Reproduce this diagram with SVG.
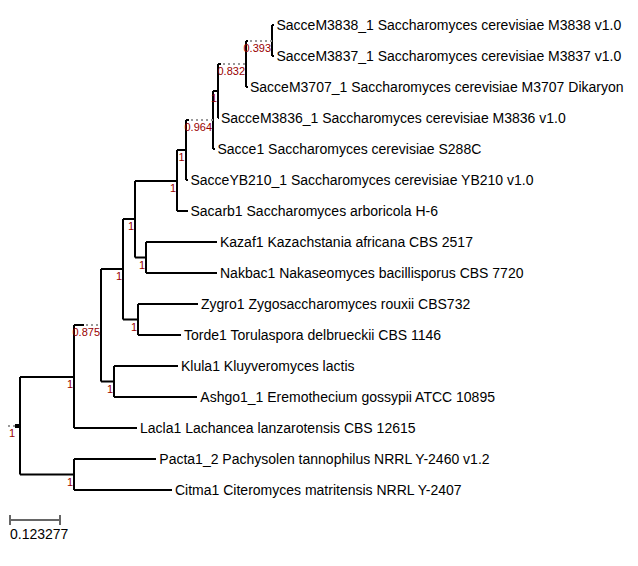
<svg xmlns="http://www.w3.org/2000/svg" width="638" height="566" viewBox="0 0 638 566">
<style>
  .br { fill: none; stroke: #000; stroke-width: 2; }
  .dot { fill: none; stroke: #999; stroke-width: 2; stroke-dasharray: 2 3; }
  .leaf { font-family: "Liberation Sans", Arial, sans-serif; font-size: 14px; fill: #000; }
  .sup { font-family: "Liberation Sans", Arial, sans-serif; font-size: 11px; fill: #990000; text-anchor: end; }
  .scale { fill: none; stroke: #666; stroke-width: 2; }
</style>
<rect width="638" height="566" fill="#fff"/>
<g id="connectors">
  <!-- verticals -->
  <path class="br" d="M272,25V56 M246,41V87 M218,64V118 M213,91V149 M186,120V180 M177,150V211 M135,181V257.5 M146,242V273 M138,304V335 M123,219V319.5 M114,366V397 M101,269V381.5 M74,325V428 M74,459V490 M20,377V474.5"/>
  <!-- internal horizontals -->
  <path class="br" d="M246,41H248 M218,64H221 M213,91H218 M186,120H189 M177,150H186 M135,181H177 M123,219H135 M135,257.5H146 M123,319.5H138 M101,269H123 M101,381.5H114 M74,325H84 M20,377H74 M20,474.5H74"/>
  <path class="dot" d="M250,41H272 M223,64H246 M191,120H213 M86,325H101 M8,426H15"/>
  <rect x="15" y="424" width="5" height="4" fill="#000"/>
  <!-- leaf branches -->
  <path class="br" d="M272,25H274 M272,56H274 M246,87H248 M218,118H219 M213,149H215 M186,180H188 M177,211H188 M146,242H217 M146,273H217 M138,304H198 M138,335H181 M114,366H178 M114,397H197 M74,428H137 M74,459H156 M74,490H172"/>
</g>
<g id="leaf-SacceM3838_1"><text class="leaf" x="276.5" y="30">SacceM3838_1 Saccharomyces cerevisiae M3838 v1.0</text></g>
<g id="leaf-SacceM3837_1"><text class="leaf" x="276.5" y="61">SacceM3837_1 Saccharomyces cerevisiae M3837 v1.0</text></g>
<g id="leaf-SacceM3707_1"><text class="leaf" x="250" y="92">SacceM3707_1 Saccharomyces cerevisiae M3707 Dikaryon</text></g>
<g id="leaf-SacceM3836_1"><text class="leaf" x="221" y="123">SacceM3836_1 Saccharomyces cerevisiae M3836 v1.0</text></g>
<g id="leaf-Sacce1"><text class="leaf" x="217.5" y="154">Sacce1 Saccharomyces cerevisiae S288C</text></g>
<g id="leaf-SacceYB210_1"><text class="leaf" x="190.5" y="185">SacceYB210_1 Saccharomyces cerevisiae YB210 v1.0</text></g>
<g id="leaf-Sacarb1"><text class="leaf" x="190.5" y="216">Sacarb1 Saccharomyces arboricola H-6</text></g>
<g id="leaf-Kazaf1"><text class="leaf" x="220" y="247">Kazaf1 Kazachstania africana CBS 2517</text></g>
<g id="leaf-Nakbac1"><text class="leaf" x="220" y="278">Nakbac1 Nakaseomyces bacillisporus CBS 7720</text></g>
<g id="leaf-Zygro1"><text class="leaf" x="201" y="309">Zygro1 Zygosaccharomyces rouxii CBS732</text></g>
<g id="leaf-Torde1"><text class="leaf" x="184" y="340">Torde1 Torulaspora delbrueckii CBS 1146</text></g>
<g id="leaf-Klula1"><text class="leaf" x="181" y="371">Klula1 Kluyveromyces lactis</text></g>
<g id="leaf-Ashgo1_1"><text class="leaf" x="200.3" y="402">Ashgo1_1 Eremothecium gossypii ATCC 10895</text></g>
<g id="leaf-Lacla1"><text class="leaf" x="140" y="433">Lacla1 Lachancea lanzarotensis CBS 12615</text></g>
<g id="leaf-Pacta1_2"><text class="leaf" x="159.3" y="464">Pacta1_2 Pachysolen tannophilus NRRL Y-2460 v1.2</text></g>
<g id="leaf-Citma1"><text class="leaf" x="175" y="495">Citma1 Citeromyces matritensis NRRL Y-2407</text></g>
<g id="node-n1"><text class="sup" x="271" y="52">0.393</text></g>
<g id="node-n2"><text class="sup" x="245" y="75">0.832</text></g>
<g id="node-n3"><text class="sup" x="217" y="102">1</text></g>
<g id="node-n4"><text class="sup" x="212" y="131">0.964</text></g>
<g id="node-n5"><text class="sup" x="184.5" y="161">1</text></g>
<g id="node-n6"><text class="sup" x="176" y="192">1</text></g>
<g id="node-n7"><text class="sup" x="134" y="230">1</text></g>
<g id="node-n8"><text class="sup" x="145" y="268.5">1</text></g>
<g id="node-n10"><text class="sup" x="137" y="330.5">1</text></g>
<g id="node-n9"><text class="sup" x="122" y="280">1</text></g>
<g id="node-n12"><text class="sup" x="113" y="392.5">1</text></g>
<g id="node-n11"><text class="sup" x="100" y="336">0.875</text></g>
<g id="node-n13"><text class="sup" x="73" y="388">1</text></g>
<g id="node-n14"><text class="sup" x="73" y="485.5">1</text></g>
<g id="node-root"><text class="sup" x="15" y="437">1</text></g>
<g id="scale-bar">
  <path class="scale" d="M10,520H60 M10,515V525 M60,515V525"/>
  <text class="leaf" x="10" y="539">0.123277</text>
</g>
</svg>
